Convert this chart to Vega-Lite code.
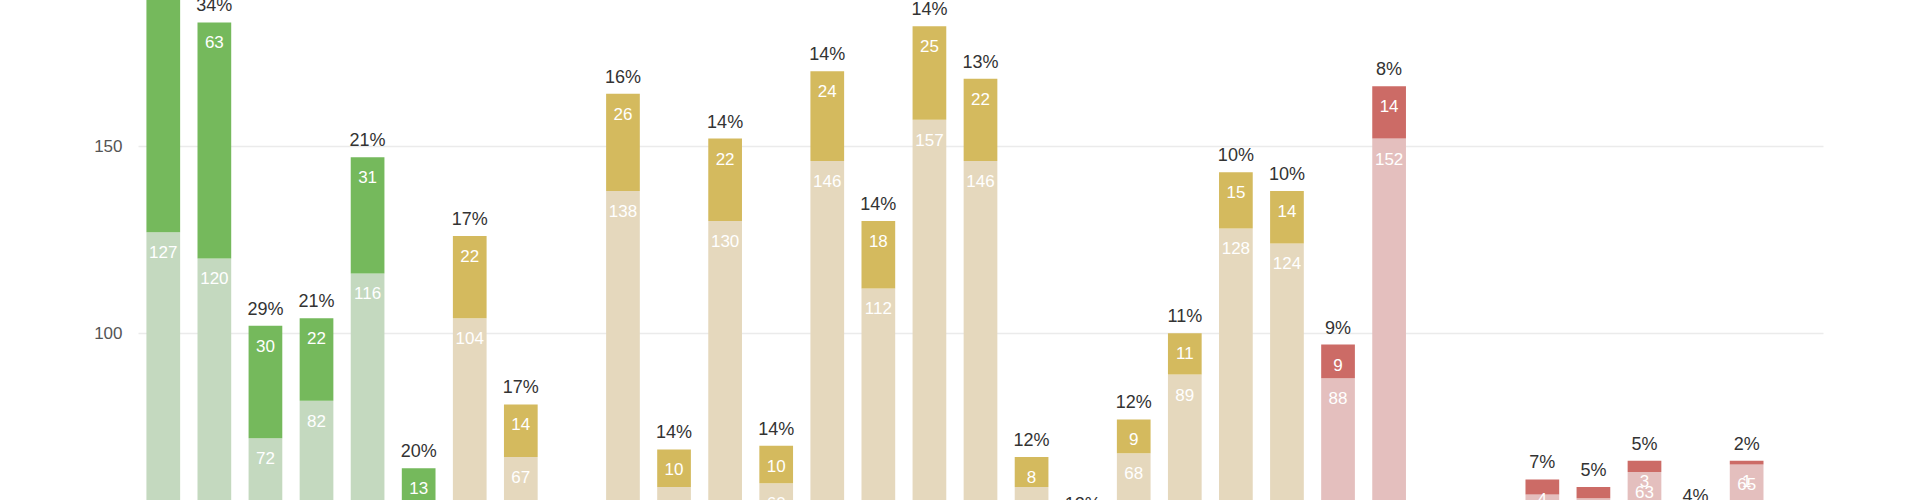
{
  "$schema": "https://vega.github.io/schema/vega-lite/v6.json",
  "autosize": "none",
  "width": 1685,
  "height": 500,
  "padding": {"left": 138, "top": 0, "right": 97, "bottom": 0},
  "background": "white",
  "config": {"view": {"stroke": null}, "font": "Liberation Sans"},
  "data": {"values": [
    {"k": 1, "lower": 127, "upper": 72, "total": 199, "pct": "36%", "g": "high"},
    {"k": 2, "lower": 120, "upper": 63, "total": 183, "pct": "34%", "g": "high"},
    {"k": 3, "lower": 72, "upper": 30, "total": 102, "pct": "29%", "g": "high"},
    {"k": 4, "lower": 82, "upper": 22, "total": 104, "pct": "21%", "g": "high"},
    {"k": 5, "lower": 116, "upper": 31, "total": 147, "pct": "21%", "g": "high"},
    {"k": 6, "lower": 51, "upper": 13, "total": 64, "pct": "20%", "g": "high"},
    {"k": 7, "lower": 104, "upper": 22, "total": 126, "pct": "17%", "g": "mid"},
    {"k": 8, "lower": 67, "upper": 14, "total": 81, "pct": "17%", "g": "mid"},
    {"k": 9, "lower": 41, "upper": 8, "total": 49, "pct": "16%", "g": "mid"},
    {"k": 10, "lower": 138, "upper": 26, "total": 164, "pct": "16%", "g": "mid"},
    {"k": 11, "lower": 59, "upper": 10, "total": 69, "pct": "14%", "g": "mid"},
    {"k": 12, "lower": 130, "upper": 22, "total": 152, "pct": "14%", "g": "mid"},
    {"k": 13, "lower": 60, "upper": 10, "total": 70, "pct": "14%", "g": "mid"},
    {"k": 14, "lower": 146, "upper": 24, "total": 170, "pct": "14%", "g": "mid"},
    {"k": 15, "lower": 112, "upper": 18, "total": 130, "pct": "14%", "g": "mid"},
    {"k": 16, "lower": 157, "upper": 25, "total": 182, "pct": "14%", "g": "mid"},
    {"k": 17, "lower": 146, "upper": 22, "total": 168, "pct": "13%", "g": "mid"},
    {"k": 18, "lower": 59, "upper": 8, "total": 67, "pct": "12%", "g": "mid"},
    {"k": 19, "lower": 44, "upper": 6, "total": 50, "pct": "12%", "g": "mid"},
    {"k": 20, "lower": 68, "upper": 9, "total": 77, "pct": "12%", "g": "mid"},
    {"k": 21, "lower": 89, "upper": 11, "total": 100, "pct": "11%", "g": "mid"},
    {"k": 22, "lower": 128, "upper": 15, "total": 143, "pct": "10%", "g": "mid"},
    {"k": 23, "lower": 124, "upper": 14, "total": 138, "pct": "10%", "g": "mid"},
    {"k": 24, "lower": 88, "upper": 9, "total": 97, "pct": "9%", "g": "low"},
    {"k": 25, "lower": 152, "upper": 14, "total": 166, "pct": "8%", "g": "low"},
    {"k": 26, "lower": 45, "upper": 4, "total": 49, "pct": "8%", "g": "low"},
    {"k": 27, "lower": 42, "upper": 3, "total": 45, "pct": "7%", "g": "low"},
    {"k": 28, "lower": 57, "upper": 4, "total": 61, "pct": "7%", "g": "low"},
    {"k": 29, "lower": 56, "upper": 3, "total": 59, "pct": "5%", "g": "low"},
    {"k": 30, "lower": 63, "upper": 3, "total": 66, "pct": "5%", "g": "low"},
    {"k": 31, "lower": 50, "upper": 2, "total": 52, "pct": "4%", "g": "low"},
    {"k": 32, "lower": 65, "upper": 1, "total": 66, "pct": "2%", "g": "low"},
    {"k": 33, "lower": 47, "upper": 1, "total": 48, "pct": "2%", "g": "low"}
  ]},
  "encoding": {
    "x": {"field": "k", "type": "ordinal", "scale": {"paddingInner": 0.34, "paddingOuter": 0.165}, "axis": null}
  },
  "layer": [
    {
      "mark": {"type": "bar"},
      "encoding": {
        "y": {"field": "lower", "type": "quantitative",
              "scale": {"domain": [55.5, 189], "nice": false, "zero": false},
              "axis": {"values": [100, 150], "grid": true, "gridColor": "#ebebeb", "gridWidth": 1.5,
                       "domain": false, "ticks": false, "labelPadding": 16, "labelFontSize": 17,
                       "labelColor": "#555555", "title": null}},
        "y2": {"datum": 0},
        "color": {"field": "g", "type": "nominal",
                  "scale": {"domain": ["high", "mid", "low"], "range": ["#c4d9bf", "#e5d8bd", "#e4bfbe"]},
                  "legend": null}
      }
    },
    {
      "mark": {"type": "bar"},
      "encoding": {
        "y": {"field": "total", "type": "quantitative"},
        "y2": {"field": "lower"},
        "color": {"field": "g", "type": "nominal",
                  "scale": {"domain": ["high", "mid", "low"], "range": ["#75b95c", "#d4ba5e", "#cc6b66"]},
                  "legend": null}
      }
    },
    {
      "mark": {"type": "text", "dy": -11, "baseline": "alphabetic", "fontSize": 18, "color": "#333333"},
      "encoding": {
        "y": {"field": "total", "type": "quantitative"},
        "text": {"field": "pct"}
      }
    },
    {
      "mark": {"type": "text", "dy": 26, "baseline": "alphabetic", "fontSize": 17, "color": "#ffffff"},
      "encoding": {
        "y": {"field": "total", "type": "quantitative"},
        "text": {"field": "upper", "type": "quantitative"}
      }
    },
    {
      "mark": {"type": "text", "dy": 26, "baseline": "alphabetic", "fontSize": 17, "color": "#ffffff"},
      "encoding": {
        "y": {"field": "lower", "type": "quantitative"},
        "text": {"field": "lower", "type": "quantitative"}
      }
    }
  ],
  "resolve": {"scale": {"color": "independent"}}
}
